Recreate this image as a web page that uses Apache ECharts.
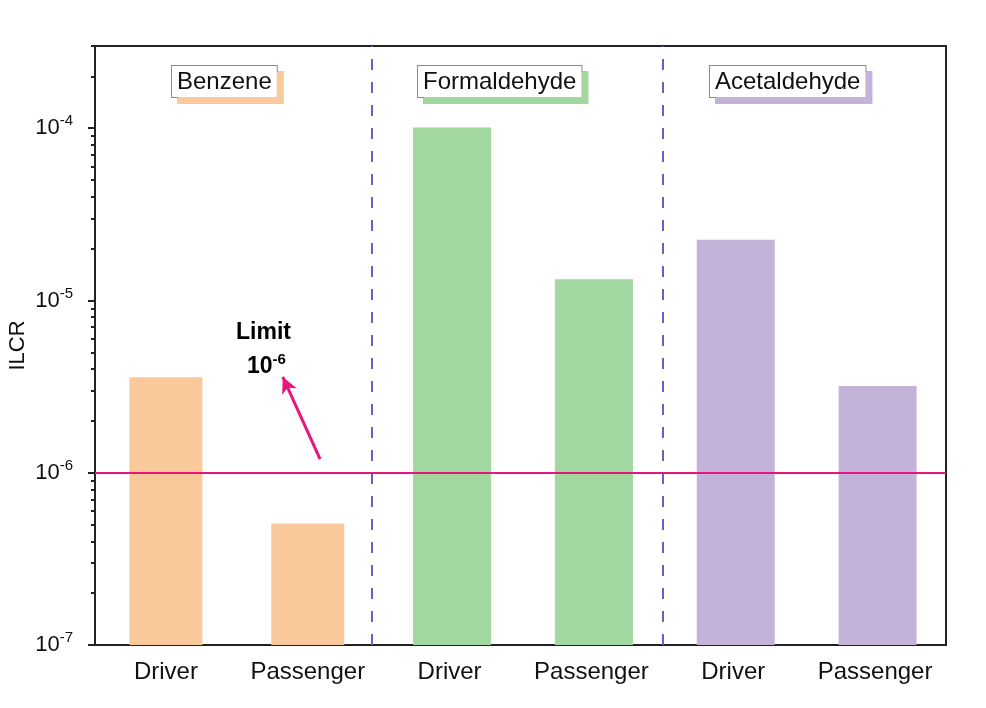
<!DOCTYPE html>
<html>
<head>
<meta charset="utf-8">
<script src="https://cdn.jsdelivr.net/npm/echarts@6/dist/echarts.min.js"></script>
<style>html,body{margin:0;padding:0;background:#fff}#c{width:986px;height:708px}</style>
</head>
<body>
<div id="c"></div>
<script>
// ---- data ----
var compounds = ['Benzene', 'Formaldehyde', 'Acetaldehyde'];
var roles = ['Driver', 'Passenger'];
var benzene = [3.58e-6, 5.08e-7];
var formaldehyde = [1.01e-4, 1.33e-5];
var acetaldehyde = [2.25e-5, 3.19e-6];
var limitValue = 1e-6;
var majorTicks = [1e-7, 1e-6, 1e-5, 1e-4];
var minorTicks = [2e-7,3e-7,4e-7,5e-7,6e-7,7e-7,8e-7,9e-7,
                  2e-6,3e-6,4e-6,5e-6,6e-6,7e-6,8e-6,9e-6,
                  2e-5,3e-5,4e-5,5e-5,6e-5,7e-5,8e-5,9e-5,
                  2e-4,3e-4];
var yMin = 1e-7, yMax = 3e-4;

var colors = ['#F9C99B', '#A0D89F', '#C3B3D8'];
var valueSets = [benzene, formaldehyde, acetaldehyde];

var categoryIds = [];
compounds.forEach(function (c) { roles.forEach(function (r) { categoryIds.push(c + '|' + r); }); });

function seriesData(idx) {
  var out = [];
  compounds.forEach(function (c, ci) {
    roles.forEach(function (r, ri) { out.push(ci === idx ? valueSets[ci][ri] : '-'); });
  });
  return out;
}

var font = 'Liberation Sans, Arial, sans-serif';
var chart = echarts.init(document.getElementById('c'));

// benzene listed last so that its narrower bars stay centred on their ticks
var barSeries = [1, 2, 0].map(function (i) {
  return {
    type: 'bar', name: compounds[i], xAxisIndex: 0, yAxisIndex: 0,
    data: seriesData(i), barWidth: i === 0 ? 73 : 78, barGap: '-100%',
    itemStyle: { color: colors[i] }, z: 2
  };
});

function boxText(text, left, color) {
  return {
    type: 'text', left: left, top: 65, z: 10,
    style: {
      text: text, font: '24px ' + font, fill: '#111',
      backgroundColor: '#fff', borderColor: '#8a8a8a', borderWidth: 1,
      padding: [4, 5, 3, 5],
      shadowColor: color, shadowOffsetX: 6, shadowOffsetY: 6, shadowBlur: 0
    }
  };
}

var option = {
  animation: false,
  backgroundColor: '#fff',
  grid: { left: 95, right: 40, top: 46, bottom: 63, containLabel: false, outerBoundsMode: 'none',
          show: true, borderColor: '#222', borderWidth: 2, backgroundColor: 'transparent' },
  xAxis: [{
    type: 'category', data: categoryIds,
    axisLine: { lineStyle: { color: '#222', width: 2 } },
    axisTick: { alignWithLabel: true, inside: false, length: 7, lineStyle: { color: '#222', width: 2 } },
    axisLabel: { formatter: function (v) { return v.split('|')[1]; }, fontFamily: font, fontSize: 24, color: '#111', margin: 15, interval: 0 },
    splitLine: { show: false }
  }, {
    type: 'value', min: 0, max: 6, show: false
  }],
  yAxis: [{
    type: 'log', min: yMin, max: yMax, logBase: 10, startValue: yMin,
    name: 'ILCR', nameLocation: 'middle', nameGap: 66, nameMoveOverlap: false,
    nameTextStyle: { fontFamily: font, fontSize: 22, color: '#111' },
    axisLine: { show: true, lineStyle: { color: '#222', width: 2 } },
    axisTick: { show: true, length: 7, customValues: majorTicks, lineStyle: { color: '#222', width: 2 } },
    axisLabel: {
      customValues: majorTicks, margin: 22,
      formatter: function (v) { return '{b|10}{s|' + Math.round(Math.log10(v)) + '}'; },
      rich: {
        b: { fontFamily: font, fontSize: 22, color: '#111' },
        s: { fontFamily: font, fontSize: 15, color: '#111', padding: [0, 0, 14, 0] }
      }
    },
    splitLine: { show: false }
  }, {
    type: 'log', min: yMin, max: yMax, logBase: 10, position: 'left',
    axisLine: { show: false },
    axisTick: { show: true, length: 4, customValues: minorTicks, lineStyle: { color: '#222', width: 2 } },
    axisLabel: { show: false },
    splitLine: { show: false }
  }],
  graphic: [
    boxText(compounds[0], 171, colors[0]),
    boxText(compounds[1], 417, colors[1]),
    boxText(compounds[2], 709, colors[2]),
    {
      type: 'text', left: 236, top: 321, z: 10,
      style: { text: 'Limit', font: 'bold 23px ' + font, fill: '#000' }
    },
    {
      type: 'text', left: 247, top: 352, z: 10,
      style: {
        text: '{b|10}{s|-6}',
        rich: {
          b: { font: 'bold 23px ' + font, fill: '#000', color: '#000' },
          s: { font: 'bold 15px ' + font, fill: '#000', color: '#000', padding: [0, 0, 14, 0] }
        }
      }
    }
  ],
  series: barSeries.concat([{
    type: 'scatter', xAxisIndex: 1, yAxisIndex: 0, symbolSize: 0,
    data: [[0, yMin]], silent: true, z: 5,
    markLine: {
      silent: true, animation: false,
      label: { show: false },
      data: [
        [{ coord: [1.95, yMin], symbol: 'none', lineStyle: { color: '#6B5FC2', width: 2, type: [11, 12] } },
         { coord: [1.95, yMax], symbol: 'none' }],
        [{ coord: [4.0, yMin], symbol: 'none', lineStyle: { color: '#6B5FC2', width: 2, type: [11, 12] } },
         { coord: [4.0, yMax], symbol: 'none' }],
        [{ coord: [0, limitValue], symbol: 'none', lineStyle: { color: '#E5167D', width: 2, type: 'solid' } },
         { coord: [6, limitValue], symbol: 'none' }],
        [{ coord: [1.587, 1.2e-6], symbol: 'none', lineStyle: { color: '#E5167D', width: 3, type: 'solid' } },
         { coord: [1.324, 3.6e-6], symbol: 'arrow', symbolSize: [12, 16] }]
      ]
    }
  }])
};
chart.setOption(option);
</script>
</body>
</html>
